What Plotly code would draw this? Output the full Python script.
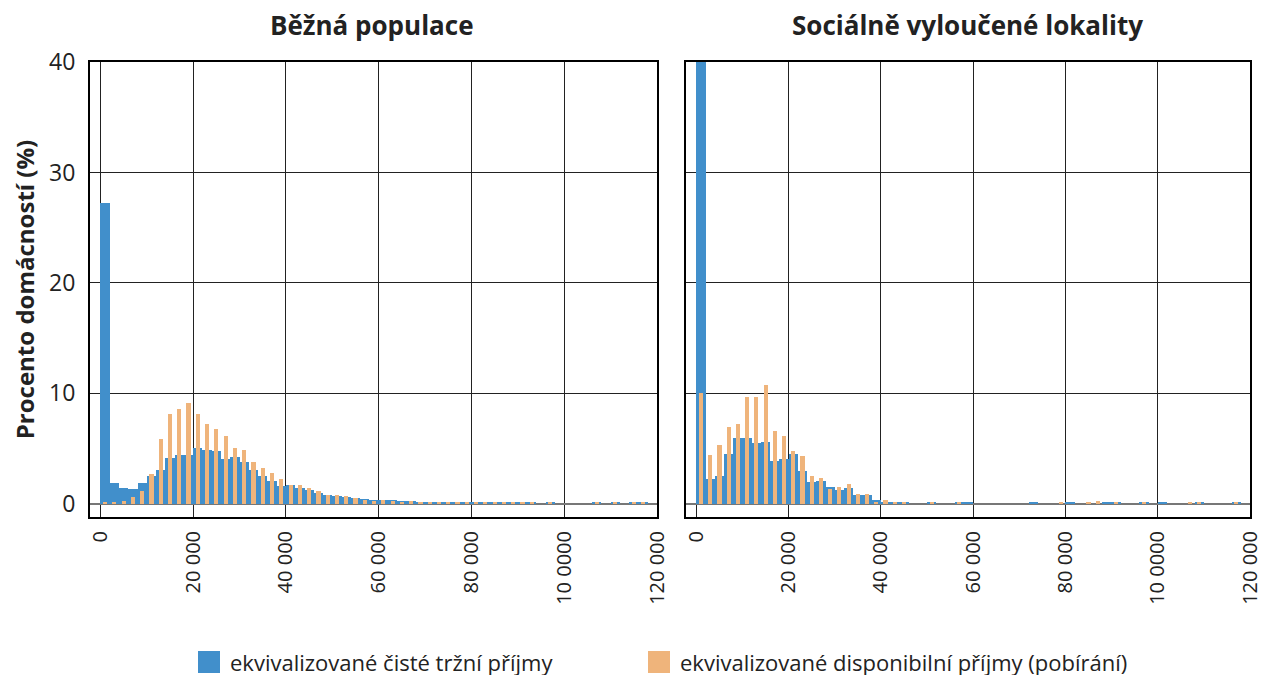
import plotly.graph_objects as go

# bin centres (2 000 Kč wide bins)
bin_width = 2000
bins = [bin_width * i + bin_width / 2 for i in range(60)]

# Běžná populace
trzni_bezna = [27.2, 1.85, 1.4, 1.3, 1.85, 2.5, 3.05, 4.1, 4.45, 4.4,
               5.05, 4.85, 4.75, 4.05, 4.25, 3.8, 3.1, 2.55, 2.1, 1.65,
               1.7, 1.45, 1.25, 1.0, 0.75, 0.7, 0.65, 0.55, 0.4, 0.35,
               0.3, 0.3, 0.25, 0.25, 0.2, 0.12, 0.2, 0.15, 0.15, 0.15,
               0.15, 0.15, 0.15, 0.15, 0.15, 0.15, 0.15, 0, 0.15, 0,
               0, 0, 0, 0.15, 0, 0.15, 0, 0.15, 0.15, 0]
disp_bezna = [0.12, 0.12, 0.22, 0.6, 1.2, 2.65, 5.85, 8.1, 8.6, 9.1,
              8.1, 7.2, 6.75, 6.1, 5.05, 4.9, 3.8, 3.25, 2.8, 2.25,
              1.7, 1.7, 1.45, 1.2, 0.75, 0.8, 0.7, 0.5, 0.3, 0.27,
              0.36, 0.27, 0.2, 0.27, 0.15, 0.1, 0.15, 0.12, 0.12, 0.12,
              0.12, 0.12, 0.12, 0.12, 0.12, 0.12, 0.12, 0, 0.12, 0,
              0, 0, 0, 0.12, 0, 0.12, 0, 0.12, 0.12, 0]

# Sociálně vyloučené lokality
trzni_svl = [40.5, 2.25, 2.55, 4.5, 5.95, 5.95, 5.5, 5.6, 3.9, 4.05,
             4.5, 3.0, 2.0, 2.1, 1.55, 1.25, 1.45, 0.75, 0.8, 0.3,
             0.18, 0.12, 0.12, 0, 0, 0.12, 0, 0, 0.12, 0.12,
             0, 0, 0, 0, 0, 0, 0.15, 0, 0, 0,
             0.15, 0, 0, 0, 0.15, 0.15, 0, 0, 0.15, 0,
             0.2, 0, 0, 0, 0.18, 0, 0, 0, 0.12, 0]
disp_svl = [10.0, 4.45, 5.3, 6.95, 7.25, 9.65, 9.65, 10.75, 6.6, 6.15,
            4.8, 4.35, 2.55, 2.35, 1.35, 1.55, 1.8, 0.9, 0.9, 0.08,
            0.36, 0.12, 0.12, 0, 0, 0.12, 0, 0, 0.12, 0,
            0, 0, 0, 0, 0, 0, 0, 0, 0, 0.12,
            0, 0, 0.12, 0.27, 0, 0.18, 0, 0, 0.12, 0,
            0, 0, 0, 0.12, 0.18, 0, 0, 0, 0.12, 0]

tick_vals = [0, 20000, 40000, 60000, 80000, 100000, 120000]
tick_text = ["0", "20 000", "40 000", "60 000", "80 000", "10 0000", "120 000"]

series_names = ["ekvivalizované čisté tržní příjmy",
                "ekvivalizované disponibilní příjmy (pobírání)"]

blue = "#418FCB"
orange = "#EFB47B"
font = "Open Sans"

fig = go.Figure()
for xa, ya, trzni, disp in [("x", "y", trzni_bezna, disp_bezna),
                            ("x2", "y2", trzni_svl, disp_svl)]:
    fig.add_trace(go.Bar(x=bins, y=trzni, width=bin_width, marker_color=blue,
                         marker_line_width=0, name=series_names[0],
                         xaxis=xa, yaxis=ya, showlegend=False, cliponaxis=False))
    fig.add_trace(go.Bar(x=bins, y=disp, width=bin_width * 0.45, marker_color=orange,
                         marker_line_width=0, name=series_names[1],
                         xaxis=xa, yaxis=ya, showlegend=False, cliponaxis=False))

xaxis_style = dict(range=[-2250, 120000], tickvals=tick_vals, ticktext=tick_text,
                   tickangle=-90, showgrid=True, gridcolor="#222", gridwidth=1,
                   showline=True, mirror=True, linecolor="black", linewidth=2,
                   zeroline=False, ticks="outside", ticklen=4, tickcolor="rgba(0,0,0,0)",
                   tickfont=dict(size=20, color="#222"), automargin=False)
yaxis_style = dict(range=[-1.2, 40], tickvals=[0, 10, 20, 30, 40],
                   showgrid=True, gridcolor="#222", gridwidth=1,
                   showline=True, mirror=True, linecolor="black", linewidth=2,
                   zeroline=True, zerolinecolor="#777", zerolinewidth=2,
                   ticks="outside", ticklen=8, tickcolor="rgba(0,0,0,0)",
                   tickfont=dict(size=23, color="#222"), automargin=False)

# page body adds an 8 px offset, so the margins are shifted to keep the
# plot area at x 90-1250, y 62-517 of the screenshot
plot_l, plot_r, plot_t, plot_b = 90, 1250, 62, 517
pw, ph = plot_r - plot_l, plot_b - plot_t

# legend drawn by hand so the swatches match the original size
legend_x = [198, 648]
legend_items = [dict(type="rect", xref="paper", yref="paper",
                     x0=(x0 - plot_l) / pw, x1=(x0 + 22 - plot_l) / pw,
                     y0=(plot_b - 673) / ph, y1=(plot_b - 651) / ph,
                     fillcolor=col, line_width=0)
                for x0, col in zip(legend_x, [blue, orange])]
legend_texts = [dict(text=name, x=(x0 + 30 - plot_l) / pw, y=(plot_b - 662) / ph,
                     xref="paper", yref="paper", xanchor="left", yanchor="middle",
                     showarrow=False, font=dict(size=22, color="#222"))
                for name, x0 in zip(series_names, legend_x)]

fig.update_layout(
    width=1267, height=675,
    margin=dict(l=plot_l - 8, r=1267 - plot_r + 8, t=plot_t - 8, b=675 - plot_b + 8,
                autoexpand=False),
    paper_bgcolor="white", plot_bgcolor="white",
    font=dict(family=font, color="#222"),
    barmode="overlay", bargap=0, showlegend=False,
    xaxis=dict(domain=[0, 567 / pw], **xaxis_style),
    xaxis2=dict(domain=[596 / pw, 1], anchor="y2", **xaxis_style),
    yaxis=dict(domain=[0, 1], anchor="x",
               title=dict(text="<b>Procento domácností (%)</b>", font=dict(size=24),
                          standoff=10),
               **yaxis_style),
    yaxis2=dict(domain=[0, 1], anchor="x2", showticklabels=False, **yaxis_style),
    shapes=legend_items,
    annotations=[
        dict(text="<b>Běžná populace</b>", x=(372 - plot_l) / pw,
             y=1 + (plot_t - 25) / ph, xref="paper", yref="paper",
             xanchor="center", yanchor="middle", showarrow=False, font=dict(size=26)),
        dict(text="<b>Sociálně vyloučené lokality</b>", x=(967 - plot_l) / pw,
             y=1 + (plot_t - 25) / ph, xref="paper", yref="paper",
             xanchor="center", yanchor="middle", showarrow=False, font=dict(size=26)),
    ] + legend_texts,
)

fig.write_html("out.html")
